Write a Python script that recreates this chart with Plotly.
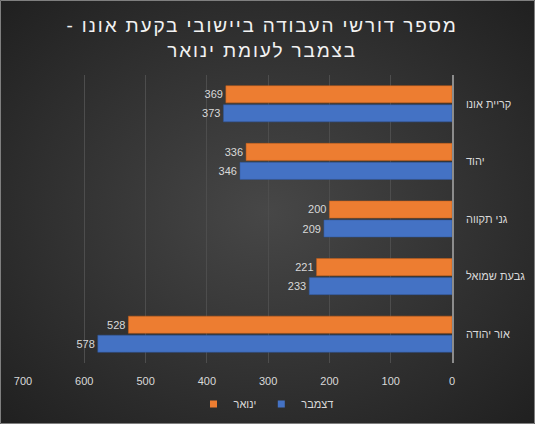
import base64
import plotly.graph_objects as go

categories = ["קריית אונו", "יהוד", "גני תקווה", "גבעת שמואל", "אור יהודה"]
january = [369, 336, 200, 221, 528]
december = [373, 346, 209, 233, 578]
series_names = ["ינואר", "דצמבר"]
x_ticks = [700, 600, 500, 400, 300, 200, 100, 0]
title_lines = ["מספר דורשי העבודה ביישובי בקעת אונו -", "בצמבר לעומת ינואר"]

W, H = 535, 424
ML, MR, MT, MB = 23, 83, 75, 61
PW, PH = W - ML - MR, H - MT - MB

FONT = "Liberation Sans, Arial, DejaVu Sans, sans-serif"
TXT = "#d9d9d9"
ORANGE, BLUE = "#ED7D31", "#4472C4"

svg = (
    f'<svg xmlns="http://www.w3.org/2000/svg" width="{W}" height="{H}">'
    '<defs><radialGradient id="g" cx="50%" cy="50%" r="72%">'
    '<stop offset="0" stop-color="#474747"/><stop offset="1" stop-color="#1f1f1f"/>'
    '</radialGradient></defs>'
    f'<rect width="{W}" height="{H}" fill="url(#g)"/></svg>'
)
bg_uri = "data:image/svg+xml;base64," + base64.b64encode(svg.encode()).decode()

RLM = "\u200f"
title_text = "<br>".join(
    f'<span style="letter-spacing:1.85px">{RLM}{t}{RLM}</span>' for t in title_lines
)

fig = go.Figure()
for name, vals, col, edge in [
    (series_names[0], january, ORANGE, "#c65f17"),
    (series_names[1], december, BLUE, "#2f5597"),
]:
    fig.add_trace(go.Bar(
        y=categories, x=vals, name=name, orientation="h", showlegend=False,
        marker=dict(color=col, line=dict(color=edge, width=0.5)),
        text=[str(v) for v in vals], textposition="outside",
        textfont=dict(color=TXT, size=11, family=FONT), cliponaxis=False,
    ))
# legend entries with small square swatches
for name, col in [(series_names[0], ORANGE), (series_names[1], BLUE)]:
    fig.add_trace(go.Scatter(
        x=[None], y=[None], name=name, mode="markers",
        marker=dict(symbol="square", size=7, color=col), showlegend=True,
    ))

fig.update_layout(
    width=W, height=H,
    margin=dict(l=ML, r=MR, t=MT, b=MB, pad=0, autoexpand=False),
    paper_bgcolor="#2e2e2e", plot_bgcolor="rgba(0,0,0,0)",
    barmode="group", bargap=0.34, bargroupgap=0.1,
    font=dict(family=FONT, color=TXT, size=11),
    title=dict(
        text=title_text,
        x=0.49, xanchor="center", xref="container",
        y=1 - 32 / H, yanchor="middle", yref="container",
        font=dict(size=19, color="#f2f2f2", family=FONT),
    ),
    xaxis=dict(
        range=[700, 0], tickvals=x_ticks, ticktext=[str(v) for v in x_ticks],
        showgrid=True, gridcolor="#4d4d4d", gridwidth=1,
        zeroline=False, showline=False,
        ticks="", tickfont=dict(size=11, color=TXT), fixedrange=True,
        ticklabelstandoff=10, automargin=False,
    ),
    yaxis=dict(
        autorange="reversed", side="right", showgrid=False,
        showline=True, linecolor="#8c8c8c", linewidth=1.5,
        ticks="", ticklabelstandoff=10, automargin=False,
        tickfont=dict(size=11, color=TXT), fixedrange=True,
    ),
    legend=dict(
        orientation="h", x=(266 - ML) / PW, xanchor="center",
        y=-41 / PH, yanchor="middle", traceorder="normal",
        font=dict(size=11, color=TXT), bgcolor="rgba(0,0,0,0)",
        itemwidth=30,
    ),
    images=[dict(
        source=bg_uri, xref="paper", yref="paper",
        x=-ML / PW, y=1 + MT / PH, sizex=W / PW, sizey=H / PH,
        xanchor="left", yanchor="top", sizing="stretch", layer="below",
    )],
    shapes=[dict(
        type="rect", xref="paper", yref="paper",
        x0=-ML / PW + 0.5 / PW, x1=1 + MR / PW - 0.5 / PW,
        y0=-MB / PH + 0.5 / PH, y1=1 + MT / PH - 0.5 / PH,
        line=dict(color="#7f7f7f", width=1), layer="below",
    )],
)

fig.write_html(
    "out.html",
    config={"displayModeBar": False},
    post_script="document.body.style.margin='0';document.body.style.overflow='hidden';",
)
